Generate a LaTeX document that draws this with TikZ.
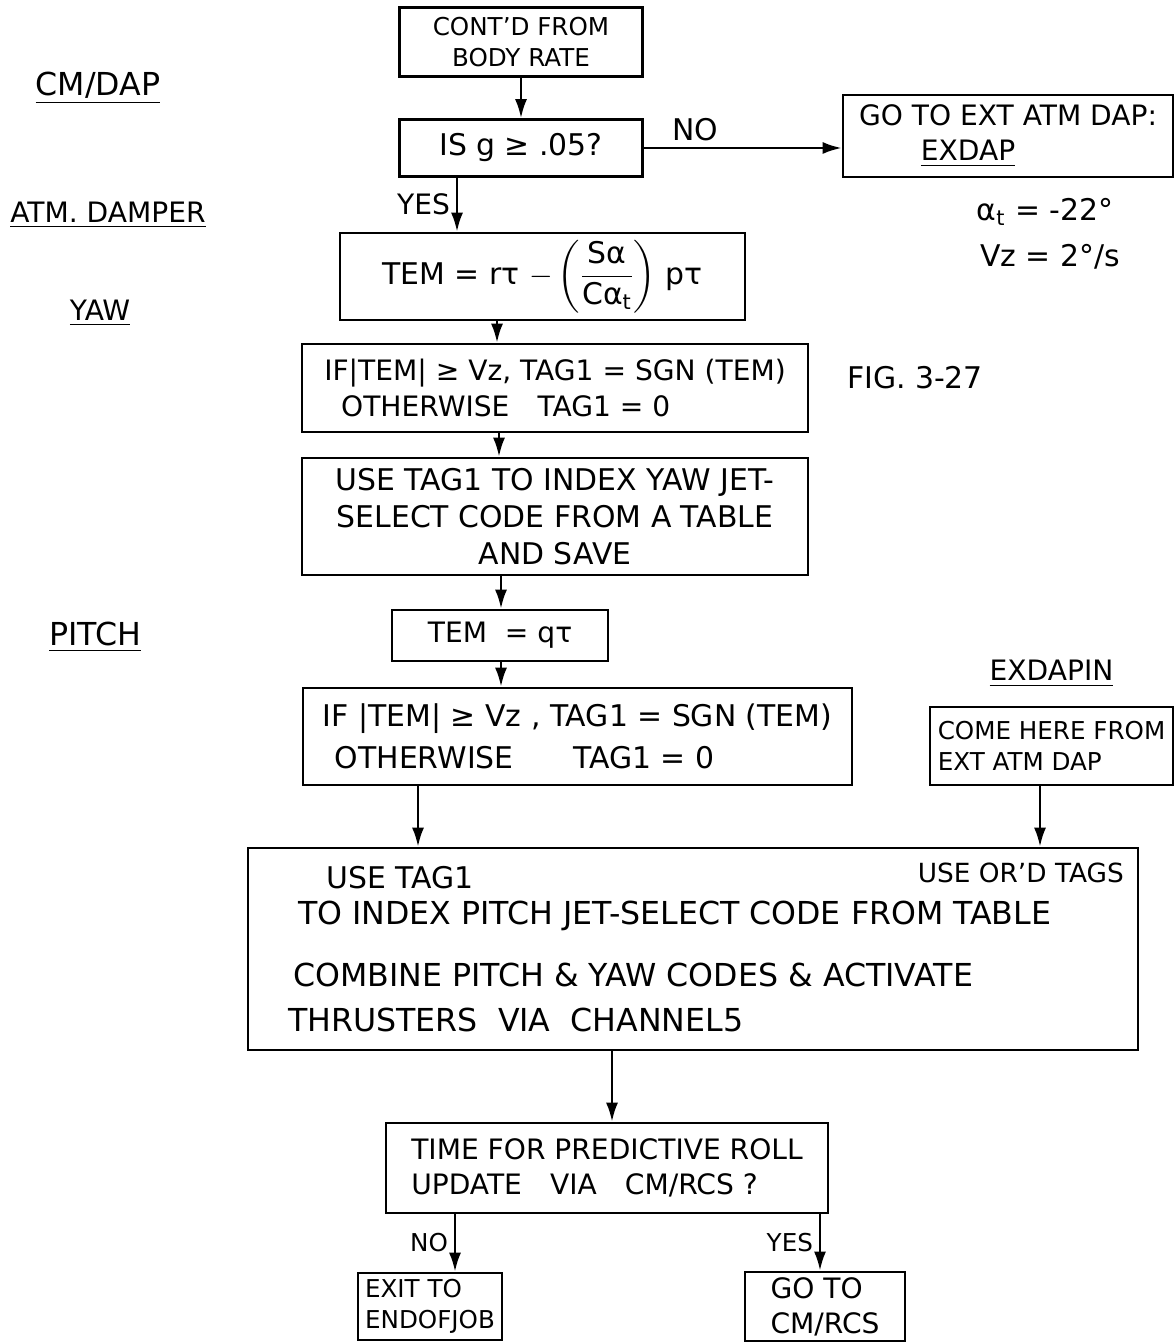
\documentclass[tikz,border=0pt]{standalone}
\usepackage{amsmath}
\usepackage{fontspec}
\setmainfont{DejaVu Sans}
\usepackage{tikz}
\usetikzlibrary{arrows.meta,positioning,calc}

\begin{document}
\begin{tikzpicture}[
    box/.style={draw, line width=1.5pt, inner sep=3pt},
    flow/.style={-{Latex[length=3.8mm,width=2.4mm]}, line width=1.4pt},
    f14/.style={font=\fontsize{14}{18}\selectfont},
    f15/.style={font=\fontsize{15}{19}\selectfont},
    f16/.style={font=\fontsize{16}{20}\selectfont},
    f17/.style={font=\fontsize{17}{21}\selectfont},
    f18/.style={font=\fontsize{18}{22}\selectfont}]
    \useasboundingbox (0,0) rectangle (23.5,-26.88);

    % Side notes
    \node[f18] (cmdap) at (1.96,-1.76) {\underline{CM/DAP}};
    \node[f16] (damper) at (2.16,-4.30) {\underline{ATM. DAMPER}};
    \node[f16] (yaw) at (2.00,-6.26) {\underline{YAW}};
    \node[f18] (pitch) at (1.90,-12.74) {\underline{PITCH}};
    \node[f17] (alpha) at (20.9,-4.24) {α\textsubscript{t} = -22°};
    \node[f17] (vz) at (21.0,-5.14) {Vz = 2°/s};
    \node[f17] (fig) at (18.3,-7.56) {FIG. 3-27};

    % Yaw channel
    \node[box,f14,minimum width=4.86cm,minimum height=1.38cm,align=center] (start) at (10.42,-0.84) {CONT'D FROM\\BODY RATE};
    \node[box,f17,minimum width=4.86cm,minimum height=1.14cm] (test) at (10.42,-2.96) {IS g ≥ .05?};
    \node[box,f16,minimum width=6.6cm,minimum height=1.64cm,align=left] (exdap) at (20.16,-2.72) {GO TO EXT ATM DAP:\\\hspace*{2.2em}\underline{EXDAP}};
    \node[box,f17,minimum width=8.1cm,minimum height=1.74cm] (yawtem) at (10.85,-5.53) {TEM = rτ $-\left(\dfrac{\text{Sα}}{\text{Cα}_{\text{t}}}\right)$ pτ};
    \node[box,f16,minimum width=10.12cm,minimum height=1.76cm,align=left] (yawif) at (11.10,-7.76) {IF|TEM| ≥ Vz, TAG1 = SGN (TEM)\\\hspace*{0.6em}OTHERWISE\quad TAG1 = 0};
    \node[box,f17,minimum width=10.12cm,minimum height=2.34cm,align=center] (yawsel) at (11.10,-10.33) {USE TAG1 TO INDEX YAW JET-\\SELECT CODE FROM A TABLE\\AND SAVE};

    % Pitch channel
    \node[box,f16,minimum width=4.32cm,minimum height=1.02cm] (pitchtem) at (10.0,-12.71) {TEM\ \ = qτ};
    \node[box,f17,minimum width=10.98cm,minimum height=1.94cm,align=left] (pitchif) at (11.55,-14.73) {IF |TEM| ≥ Vz , TAG1 = SGN (TEM)\\[3pt]\hspace*{0.4em}OTHERWISE\qquad TAG1 = 0};
    \node[box,f14,minimum width=4.86cm,minimum height=1.56cm,align=left] (exdapin) at (21.03,-14.92) {COME HERE FROM\\EXT ATM DAP};
    \node[f16,above=0.25cm of exdapin] (exdapinlbl) {\underline{EXDAPIN}};

    % Jet select box
    \node[box,minimum width=17.8cm,minimum height=4.04cm] (jets) at (13.86,-18.98) {};
    \node[f17,anchor=west] (usetag) at (6.40,-17.56) {USE TAG1};
    \node[f15,anchor=east] (useor) at (22.6,-17.46) {USE OR'D TAGS};
    \node[f18,anchor=west] (pidx) at (5.84,-18.32) {TO INDEX PITCH JET-SELECT CODE FROM TABLE};
    \node[f18,anchor=west] (comb) at (5.74,-19.50) {COMBINE PITCH \& YAW CODES \& ACTIVATE};
    \node[f18,anchor=west] (thr) at (5.64,-20.40) {THRUSTERS\ \ VIA\ \ CHANNEL5};

    % Roll update test
    \node[box,f16,minimum width=8.84cm,minimum height=1.8cm,align=left] (rollq) at (12.14,-23.36) {TIME FOR PREDICTIVE ROLL\\UPDATE\quad VIA\quad CM/RCS ?};
    \node[box,f14,minimum width=2.88cm,minimum height=1.34cm,align=left] (exit) at (8.60,-26.13) {EXIT TO\\ENDOFJOB};
    \node[box,f16,minimum width=3.2cm,minimum height=1.34cm,align=left] (gorcs) at (16.50,-26.13) {GO TO\\CM/RCS};

    % Columns of the vertical connectors
    \coordinate (c1) at (9.14,0);
    \coordinate (c2) at (9.94,0);
    \coordinate (c3) at (9.98,0);
    \coordinate (c4) at (10.02,0);
    \coordinate (c5) at (8.36,0);
    \coordinate (c6) at (20.80,0);
    \coordinate (c7) at (12.24,0);
    \coordinate (c8) at (9.10,0);
    \coordinate (c9) at (16.40,0);

    % Connectors
    \draw[flow] (start) -- (test);
    \draw[flow] (test.east) -- (test.east -| exdap.west) node[f17,pos=0.26,above] (no1) {NO};
    \draw[flow] (test.south -| c1) -- (yawtem.north -| c1) node[f16,midway,left] (yes1) {YES};
    \draw[flow] (yawtem.south -| c2) -- (yawif.north -| c2);
    \draw[flow] (yawif.south -| c3) -- (yawsel.north -| c3);
    \draw[flow] (yawsel.south -| c4) -- (pitchtem.north -| c4);
    \draw[flow] (pitchtem.south -| c4) -- (pitchif.north -| c4);
    \draw[flow] (pitchif.south -| c5) -- (jets.north -| c5);
    \draw[flow] (exdapin.south -| c6) -- (jets.north -| c6);
    \draw[flow] (jets.south -| c7) -- (rollq.north -| c7);
    \draw[flow] (rollq.south -| c8) -- (exit.north -| c8) node[f14,midway,left] (no2) {NO};
    \draw[flow] (rollq.south -| c9) -- (gorcs.north -| c9) node[f14,midway,left] (yes2) {YES};
\end{tikzpicture}
\end{document}
